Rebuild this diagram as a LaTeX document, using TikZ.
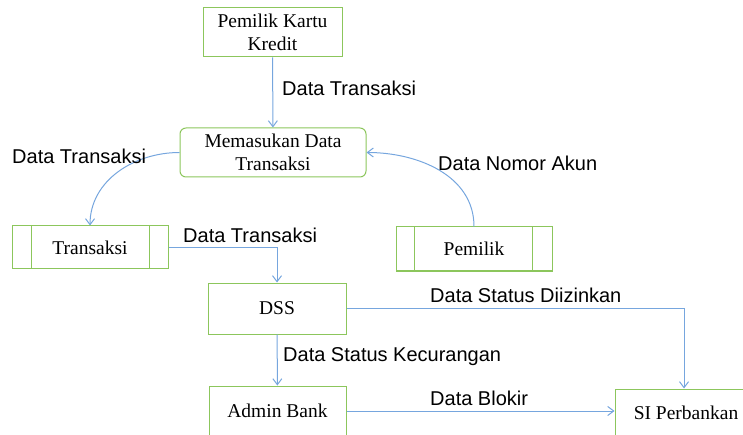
\documentclass[tikz,border=0pt]{standalone}
\usepackage{fontspec}
\setmainfont{Liberation Serif}
\setsansfont{Liberation Sans}
\usetikzlibrary{arrows.meta}
\definecolor{boxgreen}{RGB}{140,198,92}
\definecolor{flowblue}{RGB}{118,166,222}

\begin{document}
\begin{tikzpicture}[x=1pt,y=-1pt,>={Straight Barb[length=6pt,width=9pt]}]
\clip (0,0) rectangle (743,435);
 % entities, process and stores
 \begin{scope}[every node/.style={draw=boxgreen, line width=1pt, align=center,
                inner sep=0pt, font=\fontsize{19.5}{23}\selectfont}]
  \node[minimum width=139pt, minimum height=49pt] (kartu) at (272.5,32.5) {Pemilik Kartu\\Kredit};
  \node[minimum width=186pt, minimum height=49pt, rounded corners=6pt] (input) at (273,152.5) {Memasukan Data\\Transaksi};
  \node[minimum width=156pt, minimum height=43pt] (transaksi) at (90,247.5) {Transaksi};
  \node[minimum width=156pt, minimum height=44pt] (pemilik) at (474,249) {Pemilik};
  \node[minimum width=138pt, minimum height=51pt] (dss) at (277,308.5) {DSS};
  \node[minimum width=137pt, minimum height=50pt] (admin) at (277.5,411) {Admin Bank};
  \node[minimum width=142pt, minimum height=48pt] (siper) at (686,413) {SI Perbankan};
 \end{scope}
 \begin{scope}[boxgreen, line width=1pt]
  \draw ([xshift=20pt]transaksi.north west) -- ([xshift=20pt]transaksi.south west);
  \draw ([xshift=-19pt]transaksi.north east) -- ([xshift=-19pt]transaksi.south east);
  \draw ([xshift=19pt]pemilik.north west) -- ([xshift=19pt]pemilik.south west);
  \draw ([xshift=-20pt]pemilik.north east) -- ([xshift=-20pt]pemilik.south east);
 \end{scope}
 % flows
 \begin{scope}[flowblue, line width=1pt]
  \path [->] (kartu) edge (input);
  \path [->] (input.west) edge[out=180, in=90] (transaksi.north);
  \path [->] (pemilik.north) edge[out=90, in=0] (input.east);
  \draw [->] (transaksi.east) -| (dss.north);
  \draw [->] (dss.east) -| ([xshift=-2pt]siper.north);
  \path [->] (dss) edge (admin);
  \draw [->] (admin.east) -- (admin.east -| siper.west);
 \end{scope}
 % flow labels
 \begin{scope}[every node/.style={anchor=west, inner sep=0pt,
                font=\sffamily\fontsize{20}{24}\selectfont}]
  \node (l1) at (282,88) {Data Transaksi};
  \node (l2) at (12,156) {Data Transaksi};
  \node (l3) at (438,163) {Data Nomor Akun};
  \node (l4) at (183,235) {Data Transaksi};
  \node (l5) at (430,295) {Data Status Diizinkan};
  \node (l6) at (283,357) {Data Status Kecurangan};
  \node (l7) at (430,398) {Data Blokir};
 \end{scope}
\end{tikzpicture}
\end{document}
